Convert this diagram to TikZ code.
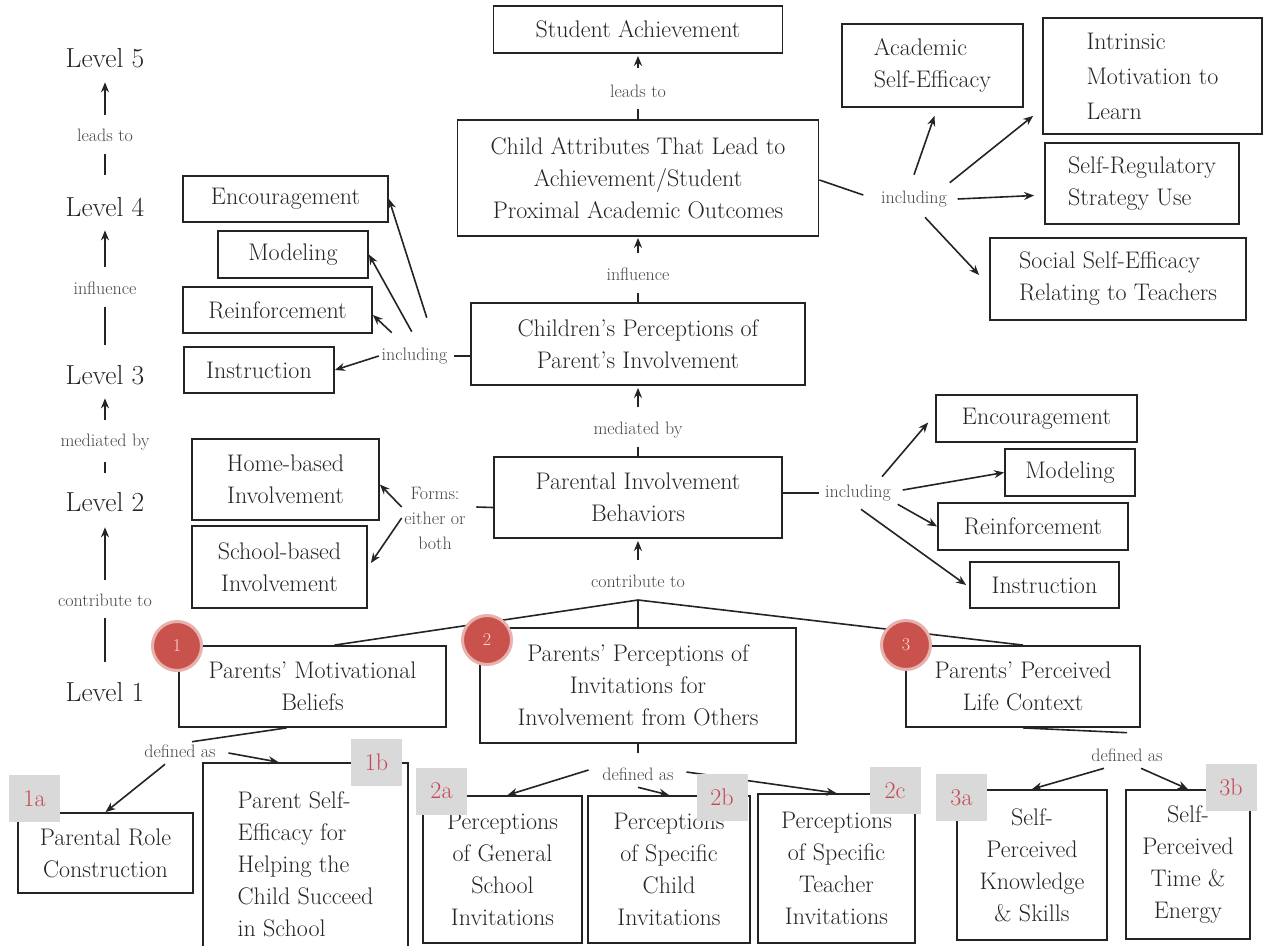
\documentclass[tikz,border=0pt]{standalone}
\usetikzlibrary{arrows.meta}

\definecolor{numred}{RGB}{201,82,76}
\definecolor{tagred}{RGB}{196,72,84}
\definecolor{taggray}{RGB}{217,217,217}
\definecolor{ink}{RGB}{36,36,36}

\tikzset{
  box/.style={draw=ink, line width=1.8pt, inner sep=0pt, align=center, text=ink,
    font=\fontsize{24}{32}\selectfont},
  dims/.style 2 args={minimum width=#1pt, minimum height=#2pt},
  lblm/.style={text=black!72, inner sep=2pt, align=center,
    font=\fontsize{18}{25}\selectfont},
  lbl/.style={lblm, text height=13pt, text depth=4pt},
  lvl/.style={text=ink, inner sep=3pt, text height=19pt, text depth=0pt,
    font=\fontsize{27.5}{30}\selectfont},
  tag/.style={fill=taggray, text=tagred, dims={51}{47}, inner sep=0pt,
    font=\fontsize{24}{24}\selectfont},
  num/.style={circle, fill=numred, draw=numred!45, line width=3pt,
    minimum size=49pt, inner sep=0pt, text=red!15, font=\fontsize{18}{18}\selectfont},
}

\begin{document}
\begin{tikzpicture}[x=1pt, y=-1pt, line width=1.6pt, color=ink,
    >={Stealth[length=10pt,width=8pt]}]
  \fill[white] (0,0) rectangle (1266,945);
  \useasboundingbox (0,0) rectangle (1266,945);

  % Level column
  \node[lvl] (L5) at (105,58) {Level 5};
  \node[lbl] (c54) at (105,137) {leads to};
  \node[lvl] (L4) at (105,207) {Level 4};
  \node[lbl] (c43) at (105,290) {influence};
  \node[lvl] (L3) at (105,375) {Level 3};
  \node[lbl] (c32) at (105,442) {mediated by};
  \node[lvl] (L2) at (105,502) {Level 2};
  \node[lbl] (c21) at (105,602) {contribute to};
  \node[lvl] (L1) at (105,692) {Level 1};
  \draw[->, shorten <=11pt, shorten >=11pt] (c54) -- (L5);
  \draw[shorten <=19pt, shorten >=6pt] (L4) -- (c54);
  \draw[->, shorten <=12pt, shorten >=10pt] (c43) -- (L4);
  \draw[shorten <=17pt, shorten >=6pt] (L3) -- (c43);
  \draw[->, shorten <=11pt, shorten >=10pt] (c32) -- (L3);
  \draw[shorten <=16pt, shorten >=9pt] (L2) -- (c32);
  \draw[->, shorten <=11pt, shorten >=12pt] (c21) -- (L2);
  \draw[shorten <=17pt, shorten >=5pt] (L1) -- (c21);

  % Main chain
  \node[box, dims={289}{47}] (sa) at (638,29.5) {Student Achievement};
  \node[lbl] (m54) at (638,93) {leads to};
  \node[box, dims={361}{116}] (cattr) at (638,178)
    {Child Attributes That Lead to\\Achievement/Student\\Proximal Academic Outcomes};
  \node[lbl] (m43) at (638,276) {influence};
  \node[box, dims={334}{82}] (cperc) at (638,344)
    {Children's Perceptions of\\Parent's Involvement};
  \node[lbl] (m32) at (638,430) {mediated by};
  \node[box, dims={288}{81}] (pib) at (638,497.5) {Parental Involvement\\Behaviors};
  \node[lbl] (m21) at (638,583) {contribute to};
  \draw[->, shorten <=14pt, shorten >=2pt] (m54) -- (sa);
  \draw[shorten >=5pt] (cattr) -- (m54);
  \draw[->, shorten <=12pt, shorten >=1pt] (m43) -- (cattr);
  \draw[shorten >=6pt] (cperc) -- (m43);
  \draw[->, shorten <=12pt, shorten >=2pt] (m32) -- (cperc);
  \draw[shorten >=6pt] (pib) -- (m32);
  \draw[->, shorten <=12pt, shorten >=2pt] (m21) -- (pib);

  % Student outcomes
  \node[box, dims={181}{83}, align=left] (acad) at (932.5,65.5) {Academic\\Self-Efficacy};
  \node[box, dims={219}{116}, align=left] (intr) at (1152.5,76)
    {Intrinsic\\[3pt]Motivation to\\[3pt]Learn};
  \node[box, dims={194}{81}, align=left] (sreg) at (1142,183.5) {Self-Regulatory\\Strategy Use};
  \node[box, dims={256}{82}, align=left] (ssoc) at (1118,279)
    {Social Self-Efficacy\\Relating to Teachers};
  \node[lbl] (inc1) at (914,199) {including};
  \draw ([yshift=-2pt]cattr.east) -- ([shift={(-15pt,4pt)}]inc1.west);
  \draw[->] ([yshift=13pt]inc1.north) -- ([shift={(2pt,-8pt)}]acad.south);
  \draw[->] ([yshift=5pt]inc1.north east) -- ([shift={(-9pt,19pt)}]intr.south west);
  \draw[->] ([xshift=8pt]inc1.east) -- ([shift={(-10pt,-12pt)}]sreg.west);
  \draw[->] ([shift={(11pt,-7pt)}]inc1.south) -- ([shift={(-10pt,4pt)}]ssoc.west);

  % Perceived forms
  \node[box, dims={205}{46}] (lenc) at (285.5,199) {Encouragement};
  \node[box, dims={150}{47}] (lmod) at (293,254.5) {Modeling};
  \node[box, dims={189}{46}] (lrein) at (277.5,310) {Reinforcement};
  \node[box, dims={150}{46}] (linst) at (259,370) {Instruction};
  \node[lbl] (inc2) at (414.5,356) {including};
  \draw ([xshift=4pt]inc2.east) -- (inc2.east -| cperc.west);
  \draw[->] ([shift={(48pt,27pt)}]inc2.north west) -- (lenc.east);
  \draw[->] ([shift={(33pt,13pt)}]inc2.north west) -- (lmod.east);
  \draw[->] ([shift={(13pt,12pt)}]inc2.north west) -- ([yshift=-5pt]lrein.east);
  \draw[->] (inc2.west) -- (linst.east);

  % Involvement forms
  \node[box, dims={187}{81}] (home) at (285.5,479.5) {Home-based\\Involvement};
  \node[box, dims={175}{82}] (school) at (279.5,567) {School-based\\Involvement};
  \node[lblm] (forms) at (435,518) {Forms:\\either or\\both};
  \draw ([yshift=-10pt]pib.west) -- ([shift={(8pt,11pt)}]forms.east);
  \draw[->] ([yshift=11pt]forms.west) -- ([yshift=-5pt]home.east);
  \draw[->] (forms.west) -- ([shift={(3pt,4pt)}]school.east);

  % Involvement behaviors
  \node[box, dims={201}{47}] (renc) at (1036.5,418.5) {Encouragement};
  \node[box, dims={130}{47}] (rmod) at (1070,472.5) {Modeling};
  \node[box, dims={190}{47}] (rrein) at (1033,526.5) {Reinforcement};
  \node[box, dims={149}{46}] (rinst) at (1044.5,585) {Instruction};
  \node[lbl] (inc3) at (858,493) {including};
  \draw (inc3.west -| pib.east) -- ([xshift=-3pt]inc3.west);
  \draw[->] ([shift={(24pt,5pt)}]inc3.north) -- ([shift={(-7pt,-4pt)}]renc.west);
  \draw[->] ([shift={(9pt,3pt)}]inc3.east) -- (rmod.west);
  \draw[->] ([xshift=4pt]inc3.south east) -- (rrein.west);
  \draw[->] ([shift={(3pt,-5pt)}]inc3.south) -- ([xshift=-3pt]rinst.west);

  % Level 1 sources
  \node[box, dims={267}{81}] (pmb) at (312.5,686.5) {Parents' Motivational\\Beliefs};
  \node[box, dims={316}{115}] (ppi) at (638,685.5)
    {Parents' Perceptions of\\Invitations for\\Involvement from Others};
  \node[box, dims={234}{81}] (plc) at (1023,686.5) {Parents' Perceived\\Life Context};
  \coordinate (apex) at (638,600);
  \draw (apex) -- ([xshift=22pt]pmb.north);
  \draw (apex) -- (ppi.north);
  \draw (apex) -- (plc.north);

  % Definitions
  \node[box, dims={175}{80}] (prc) at (105.5,853) {Parental Role\\Construction};
  \node[box, dims={205}{202}, align=left] (pse) at (305.5,864)
    {Parent Self-\\Efficacy for\\Helping the\\Child Succeed\\in School};
  \node[box, dims={159}{147}] (pgen) at (502.5,869.5)
    {Perceptions\\of General\\School\\Invitations};
  \node[box, dims={162}{147}] (pchild) at (669,869.5)
    {Perceptions\\of Specific\\Child\\Invitations};
  \node[box, dims={157}{149}] (pteach) at (836.5,868.5)
    {Perceptions\\of Specific\\Teacher\\Invitations};
  \node[box, dims={150}{150}] (pks) at (1032,865)
    {Self-\\Perceived\\Knowledge\\\& Skills};
  \node[box, dims={124}{149}] (pte) at (1188,864.5)
    {Self-\\Perceived\\Time \&\\Energy};

  \node[lbl] (d1) at (180,753) {defined as};
  \draw ([xshift=-26pt]pmb.south) -- ([xshift=12pt]d1.north);
  \draw[->] ([xshift=-15pt]d1.south) -- (prc.north);
  \draw[->] ([xshift=10pt]d1.east) -- ([xshift=-27pt]pse.north);

  \node[lbl] (d2) at (638,776) {defined as};
  \draw[shorten >=12pt] (ppi) -- (d2);
  \draw[->] ([shift={(-11pt,6pt)}]d2.west) -- ([xshift=5pt]pgen.north);
  \draw[->] (d2.south) -- (pchild.north);
  \draw[->] ([shift={(10pt,4pt)}]d2.east) -- (pteach.north);

  \node[lbl] (d3) at (1127,757) {defined as};
  \draw (plc.south) -- ([yshift=13pt]d3.north);
  \draw[->] ([xshift=-23pt]d3.south) -- (pks.north);
  \draw[->] ([xshift=14pt]d3.south) -- (pte.north);

  % Tags
  \node[tag] (t1a) at (34.5,798.5) {1a};
  \node[tag] (t1b) at (376.5,762) {1b};
  \node[tag] (t2a) at (441.5,791) {2a};
  \node[tag] (t2b) at (722,797) {2b};
  \node[tag] (t2c) at (895,790.5) {2c};
  \node[tag] (t3a) at (961.5,797.5) {3a};
  \node[tag] (t3b) at (1231,787.5) {3b};

  % Numbered circles
  \node[num] (n1) at (177,646) {1};
  \node[num] (n2) at (487,640) {2};
  \node[num] (n3) at (906,645) {3};
\end{tikzpicture}
\end{document}
